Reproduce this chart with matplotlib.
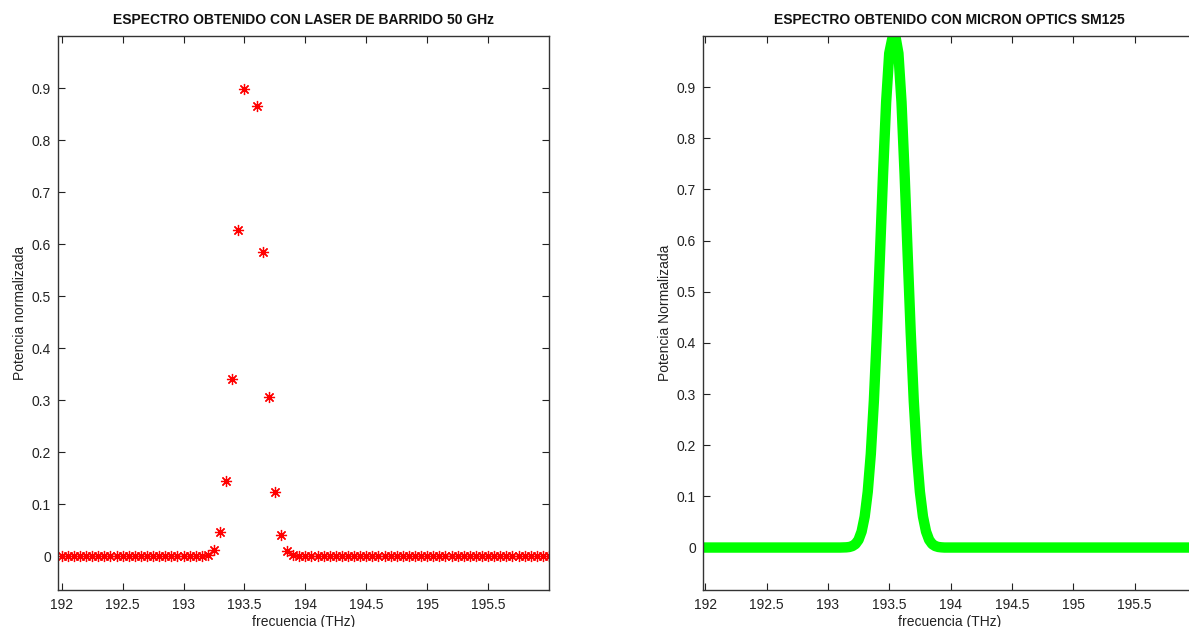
import numpy as np
import matplotlib
matplotlib.use("Agg")
import matplotlib.pyplot as plt

plt.rcParams['font.family'] = ['Liberation Sans', 'DejaVu Sans']

# Left panel: swept laser, 50 GHz steps
freq_laser = np.round(np.arange(192.0, 196.0001, 0.05), 2)
peak_laser = {
    193.15: 0.001, 193.20: 0.003, 193.25: 0.011, 193.30: 0.046, 193.35: 0.145,
    193.40: 0.341, 193.45: 0.628, 193.50: 0.898, 193.55: np.nan, 193.60: 0.866,
    193.65: 0.584, 193.70: 0.306, 193.75: 0.124, 193.80: 0.040, 193.85: 0.010,
    193.90: 0.002, 193.95: 0.0005,
}
pot_laser = [peak_laser.get(float(f), 0.0) for f in freq_laser]

# Right panel: Micron Optics SM125 spectrum
freq_sm = [191.95, 193.000, 193.100, 193.150, 193.175, 193.200, 193.225, 193.250,
           193.275, 193.300, 193.325, 193.350, 193.375, 193.400, 193.425,
           193.450, 193.475, 193.500, 193.525, 193.550, 193.575, 193.600,
           193.625, 193.650, 193.675, 193.700, 193.725, 193.750, 193.775,
           193.800, 193.825, 193.850, 193.875, 193.900, 193.925, 193.950,
           194.000, 194.100, 196.05]
pot_sm = [0.0, 0.0, 0.0, 0.0004, 0.0011, 0.0029, 0.0068, 0.0151,
          0.0313, 0.0605, 0.109, 0.183, 0.287, 0.421, 0.575,
          0.732, 0.871, 0.966, 0.995, 1.0, 0.966, 0.871,
          0.732, 0.575, 0.421, 0.287, 0.183, 0.109, 0.0605,
          0.0313, 0.0151, 0.0068, 0.0029, 0.0011, 0.0004, 0.0,
          0.0, 0.0, 0.0]

xticks = [192, 192.5, 193, 193.5, 194, 194.5, 195, 195.5]
xticklabels = ['192', '192.5', '193', '193.5', '194', '194.5', '195', '195.5']
yticks = [0, 0.1, 0.2, 0.3, 0.4, 0.5, 0.6, 0.7, 0.8, 0.9]
yticklabels = ['0', '0.1', '0.2', '0.3', '0.4', '0.5', '0.6', '0.7', '0.8', '0.9']

W, H = 1189, 627
fig = plt.figure(figsize=(W / 100, H / 100), dpi=100)

def frac(x0, x1, ytop, ybot):
    return [x0 / W, 1 - ybot / H, (x1 - x0) / W, (ybot - ytop) / H]

ax1 = fig.add_axes(frac(57.7, 549.0, 36, 590))
ax2 = fig.add_axes(frac(702.7, 1196.0, 36, 590))

ax1.plot(freq_laser, pot_laser, linestyle='none', marker=(8, 2, 0),
         markersize=8, markeredgewidth=0.9, color='red')
ax1.set_xlim(191.967, 196.0)
ax1.set_ylim(-0.065, 1.0)

ax2.plot(freq_sm, pot_sm, color='#00ff00', linewidth=7.5,
         solid_joinstyle='round', solid_capstyle='butt')
ax2.set_xlim(191.98, 196.0)
ax2.set_ylim(-0.083, 1.0)

titles = ['ESPECTRO OBTENIDO CON LASER DE BARRIDO 50 GHz',
          'ESPECTRO OBTENIDO CON MICRON OPTICS SM125']
ylabels = ['Potencia normalizada', 'Potencia Normalizada']

for ax, t, yl in zip([ax1, ax2], titles, ylabels):
    ax.set_xticks(xticks)
    ax.set_xticklabels(xticklabels)
    ax.set_yticks(yticks)
    ax.set_yticklabels(yticklabels)
    ax.tick_params(direction='in', length=5, width=0.8, top=True, right=True,
                   labelsize=10, colors='#222222', pad=5)
    ax.tick_params(axis='x', pad=6)
    for s in ax.spines.values():
        s.set_color('#333333')
        s.set_linewidth(1.0)
    ax.set_title(t, fontsize=10, fontweight='bold', pad=9, color='#111111')
    ax.set_xlabel('frecuencia (THz)', fontsize=10, labelpad=2, color='#222222')
    ax.set_ylabel(yl, fontsize=10, labelpad=3, color='#222222')

fig.savefig('out.png', dpi=100)
